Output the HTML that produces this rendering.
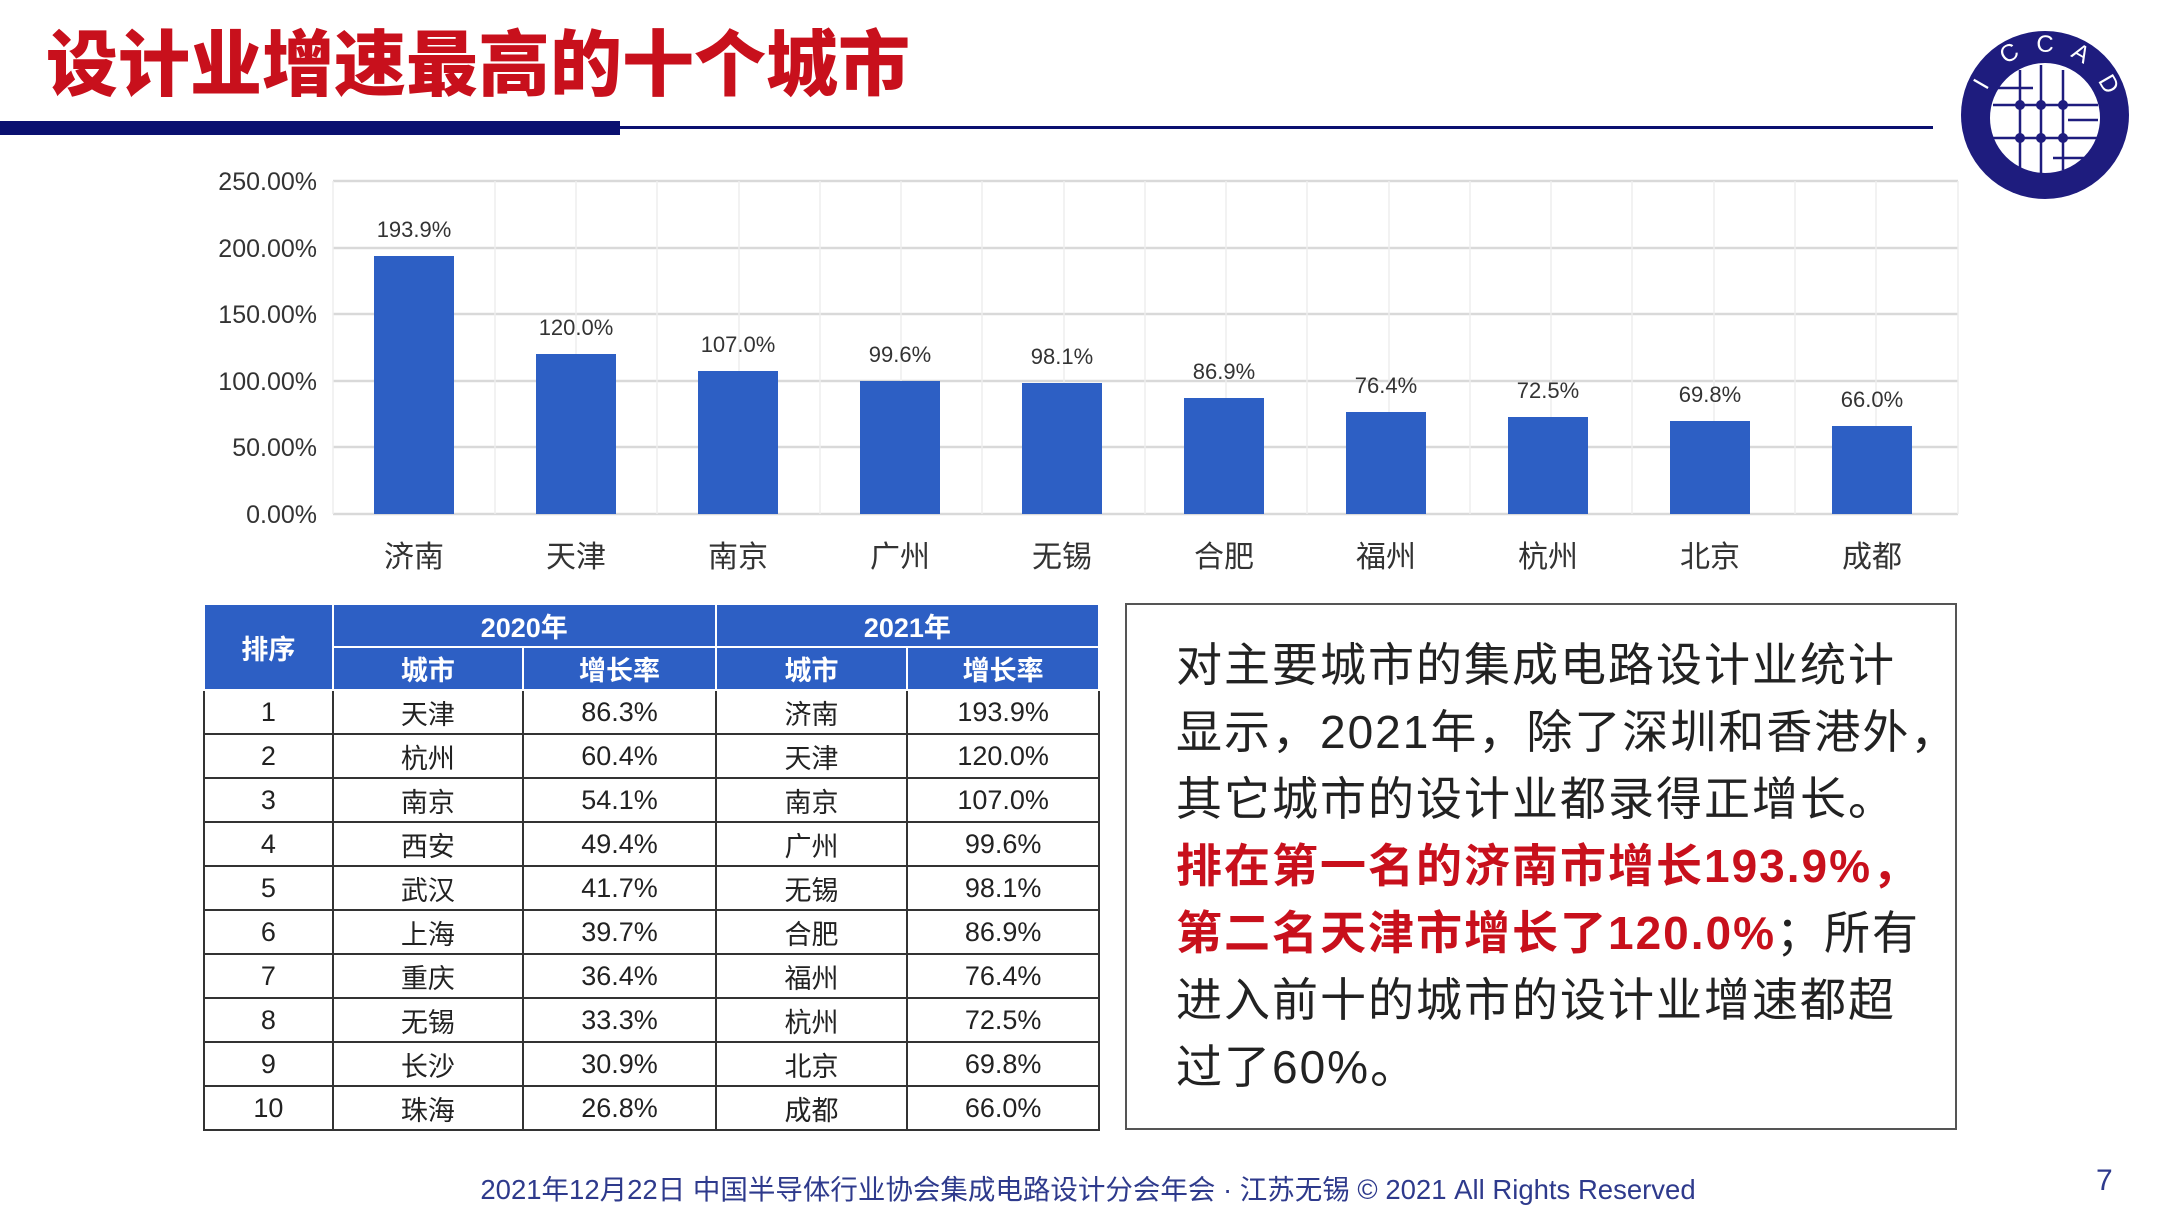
<!DOCTYPE html>
<html><head><meta charset="utf-8">
<style>
*{margin:0;padding:0;box-sizing:border-box}
body{width:2160px;height:1216px;background:#fff;position:relative;overflow:hidden;font-family:"Liberation Sans","Noto Sans CJK SC",sans-serif}
.a{position:absolute}
.title{left:46px;top:6px;font-size:72px;font-weight:900;color:#c8101c;letter-spacing:0px;font-family:"Noto Sans CJK SC",sans-serif;white-space:nowrap}
table{border-collapse:collapse;position:absolute;left:203px;top:603px;width:897px;font-family:"Liberation Sans","Noto Sans CJK SC",sans-serif}
td,th{text-align:center;font-size:27px;color:#222;font-weight:normal;border:2px solid #333;height:44px;padding:0}
th{background:#2d5fc4;color:#fff;font-weight:bold;border:2px solid #fff;height:43px}
.box{left:1125px;top:603px;width:832px;height:527px;border:2.5px solid #555}
.txt{left:1176px;top:632px;font-size:46px;line-height:67px;color:#222;white-space:nowrap;letter-spacing:2px;font-family:"Liberation Sans","Noto Sans CJK SC",sans-serif}
.red{color:#c8101c;font-weight:bold}
</style></head><body>
<div class="a title">设计业增速最高的十个城市</div>
<div class="a" style="left:0;top:121px;width:620px;height:14px;background:#0a1070"></div>
<div class="a" style="left:600px;top:126px;width:1333px;height:3px;background:#0a1070"></div>
<svg class="a" style="left:1958px;top:30px" width="180" height="180" viewBox="0 0 180 180">
<circle cx="87" cy="85" r="84" fill="#1e1c7e"/>
<circle cx="87" cy="88" r="56" fill="#fff" stroke="#1e1c7e" stroke-width="2"/>
<g stroke="#1e1c7e" stroke-width="2.5">
<line x1="62" y1="40" x2="62" y2="140"/><line x1="83" y1="35" x2="83" y2="143"/><line x1="105" y1="40" x2="105" y2="140"/>
<line x1="35" y1="75" x2="140" y2="75"/><line x1="35" y1="108" x2="140" y2="108"/>
<line x1="40" y1="58" x2="75" y2="58"/><line x1="110" y1="90" x2="140" y2="90"/><line x1="95" y1="128" x2="130" y2="128"/>
</g>
<g fill="#1e1c7e"><circle cx="62" cy="75" r="5"/><circle cx="83" cy="75" r="5"/><circle cx="105" cy="75" r="5"/><circle cx="62" cy="108" r="5"/><circle cx="83" cy="108" r="5"/><circle cx="105" cy="108" r="5"/></g>
<g fill="#fff" font-size="24" font-family="Liberation Sans,sans-serif" text-anchor="middle">
<text x="30" y="58" transform="rotate(-60 30 58)">I</text><text x="55" y="30" transform="rotate(-30 55 30)">C</text><text x="87" y="22">C</text><text x="119" y="30" transform="rotate(30 119 30)">A</text><text x="144" y="58" transform="rotate(60 144 58)">D</text>
</g>
</svg>
<svg class="a" style="left:0;top:0" width="2160" height="600">
<g stroke="#d9d9d9" stroke-width="2.5">
<line x1="333" y1="181" x2="1958" y2="181"/><line x1="333" y1="248" x2="1958" y2="248"/><line x1="333" y1="314" x2="1958" y2="314"/><line x1="333" y1="381" x2="1958" y2="381"/><line x1="333" y1="447" x2="1958" y2="447"/><line x1="333" y1="514" x2="1958" y2="514"/>
</g>
<g font-size="25" fill="#333" text-anchor="end" font-family="Liberation Sans,sans-serif">
<text x="317" y="190">250.00%</text><text x="317" y="257">200.00%</text><text x="317" y="323">150.00%</text><text x="317" y="390">100.00%</text><text x="317" y="456">50.00%</text><text x="317" y="523">0.00%</text>
</g>
<g stroke="#eeeeee" stroke-width="1.5">
<line x1="495" y1="181" x2="495" y2="514"/><line x1="657" y1="181" x2="657" y2="514"/><line x1="820" y1="181" x2="820" y2="514"/><line x1="982" y1="181" x2="982" y2="514"/><line x1="1145" y1="181" x2="1145" y2="514"/><line x1="1307" y1="181" x2="1307" y2="514"/><line x1="1470" y1="181" x2="1470" y2="514"/><line x1="1632" y1="181" x2="1632" y2="514"/><line x1="1795" y1="181" x2="1795" y2="514"/><line x1="1958" y1="181" x2="1958" y2="514"/><line x1="333" y1="181" x2="333" y2="514"/>
<line x1="576" y1="181" x2="576" y2="514"/><line x1="739" y1="181" x2="739" y2="514"/><line x1="901" y1="181" x2="901" y2="514"/><line x1="1064" y1="181" x2="1064" y2="514"/><line x1="1226" y1="181" x2="1226" y2="514"/><line x1="1389" y1="181" x2="1389" y2="514"/><line x1="1551" y1="181" x2="1551" y2="514"/><line x1="1714" y1="181" x2="1714" y2="514"/><line x1="1876" y1="181" x2="1876" y2="514"/>
</g>
<g fill="#2d5fc4">
<rect x="374" y="256" width="80" height="258"/>
<rect x="536" y="354" width="80" height="160"/>
<rect x="698" y="371" width="80" height="143"/>
<rect x="860" y="381" width="80" height="133"/>
<rect x="1022" y="383" width="80" height="131"/>
<rect x="1184" y="398" width="80" height="116"/>
<rect x="1346" y="412" width="80" height="102"/>
<rect x="1508" y="417" width="80" height="97"/>
<rect x="1670" y="421" width="80" height="93"/>
<rect x="1832" y="426" width="80" height="88"/>
</g>
<g font-size="22" fill="#333" text-anchor="middle" font-family="Liberation Sans,sans-serif">
<text x="414" y="237">193.9%</text><text x="576" y="335">120.0%</text><text x="738" y="352">107.0%</text><text x="900" y="362">99.6%</text><text x="1062" y="364">98.1%</text><text x="1224" y="379">86.9%</text><text x="1386" y="393">76.4%</text><text x="1548" y="398">72.5%</text><text x="1710" y="402">69.8%</text><text x="1872" y="407">66.0%</text>
</g>
<g font-size="30" fill="#333" text-anchor="middle" font-family="Noto Sans CJK SC,sans-serif">
<text x="414" y="567">济南</text><text x="576" y="567">天津</text><text x="738" y="567">南京</text><text x="900" y="567">广州</text><text x="1062" y="567">无锡</text><text x="1224" y="567">合肥</text><text x="1386" y="567">福州</text><text x="1548" y="567">杭州</text><text x="1710" y="567">北京</text><text x="1872" y="567">成都</text>
</g>
</svg>
<table>
<colgroup><col style="width:129px"><col style="width:191px"><col style="width:193px"><col style="width:192px"><col style="width:192px"></colgroup>
<tr><th rowspan="2">排序</th><th colspan="2">2020年</th><th colspan="2">2021年</th></tr>
<tr><th>城市</th><th>增长率</th><th>城市</th><th>增长率</th></tr>
<tr><td>1</td><td>天津</td><td>86.3%</td><td>济南</td><td>193.9%</td></tr>
<tr><td>2</td><td>杭州</td><td>60.4%</td><td>天津</td><td>120.0%</td></tr>
<tr><td>3</td><td>南京</td><td>54.1%</td><td>南京</td><td>107.0%</td></tr>
<tr><td>4</td><td>西安</td><td>49.4%</td><td>广州</td><td>99.6%</td></tr>
<tr><td>5</td><td>武汉</td><td>41.7%</td><td>无锡</td><td>98.1%</td></tr>
<tr><td>6</td><td>上海</td><td>39.7%</td><td>合肥</td><td>86.9%</td></tr>
<tr><td>7</td><td>重庆</td><td>36.4%</td><td>福州</td><td>76.4%</td></tr>
<tr><td>8</td><td>无锡</td><td>33.3%</td><td>杭州</td><td>72.5%</td></tr>
<tr><td>9</td><td>长沙</td><td>30.9%</td><td>北京</td><td>69.8%</td></tr>
<tr><td>10</td><td>珠海</td><td>26.8%</td><td>成都</td><td>66.0%</td></tr>
</table>
<div class="a box"></div>
<div class="a txt">对主要城市的集成电路设计业统计<br>显示，2021年，除了深圳和香港外，<br>其它城市的设计业都录得正增长。<br><span class="red">排在第一名的济南市增长193.9%，<br>第二名天津市增长了120.0%</span>；所有<br>进入前十的城市的设计业增速都超<br>过了60%。</div>
<div class="a" style="left:0;width:2176px;top:1167px;text-align:center;font-size:27.5px;color:#2e3a8c">2021年12月22日 中国半导体行业协会集成电路设计分会年会 · 江苏无锡 © 2021 All Rights Reserved</div>
<div class="a" style="left:2096px;top:1164px;font-size:30px;color:#2e3a8c">7</div>
</body></html>
